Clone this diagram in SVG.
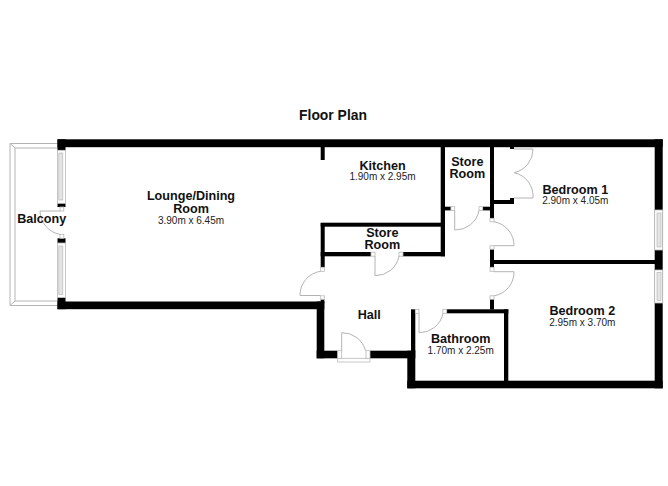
<svg xmlns="http://www.w3.org/2000/svg" width="668" height="486" viewBox="0 0 668 486">
<style>
.w{fill:#000}
.f{fill:#fff;stroke:#b8b8b8;stroke-width:.8}
.g{fill:#e4e4e4;stroke:#b8b8b8;stroke-width:.7}
.d{fill:none;stroke:#b4b4b4;stroke-width:1}
text{font-family:"Liberation Sans",Arial,sans-serif;text-anchor:middle;fill:#111}
.n{font-size:12.6px;font-weight:700}
.s{font-size:10px;fill:#222}
.t{font-size:13.9px;font-weight:700}
</style>
<rect width="668" height="486" fill="#fff"/>
<g id="balcony-frame">
<path class="d" d="M58 143.5H10V305.5H58M58 148H15V301H58M10 143.5L15 148M10 305.5L15 301"/>
</g>
<g id="walls">
<rect class="w" x="57.5" y="139.3" width="605.2" height="7.9"/>
<rect class="w" x="57.5" y="139.3" width="8" height="11"/>
<rect class="w" x="57.5" y="297.5" width="8" height="11.7"/>
<rect class="w" x="57.5" y="301.5" width="266.8" height="7.7"/>
<rect class="w" x="320.7" y="147" width="4" height="13"/>
<rect class="w" x="320.7" y="223" width="4" height="44.3"/>
<rect class="w" x="320.7" y="222.7" width="124.3" height="4"/>
<rect class="w" x="320.7" y="252" width="50.3" height="4.3"/>
<rect class="w" x="402.7" y="252" width="42.3" height="4.3"/>
<rect class="w" x="440.7" y="147" width="4.3" height="109.3"/>
<rect class="w" x="445" y="206.7" width="5.8" height="3.7"/>
<rect class="w" x="482.7" y="206.7" width="7.5" height="3.7"/>
<rect class="w" x="490" y="147" width="4" height="71.3"/>
<rect class="w" x="494" y="200" width="20" height="4"/>
<rect class="w" x="510" y="198" width="4" height="6"/>
<rect class="w" x="510" y="147" width="4" height="2"/>
<rect class="w" x="490" y="249.3" width="4" height="18"/>
<rect class="w" x="494" y="260" width="161" height="4"/>
<rect class="w" x="490" y="299" width="4" height="10.5"/>
<rect class="w" x="446.7" y="309.3" width="61.6" height="4"/>
<rect class="w" x="504" y="309.3" width="4.3" height="72"/>
<rect class="w" x="411" y="309.3" width="4.3" height="42"/>
<rect class="w" x="320.7" y="299.3" width="3.6" height="4"/>
<rect class="w" x="316.7" y="301.5" width="7.6" height="56.8"/>
<rect class="w" x="316.7" y="350.7" width="21" height="7.6"/>
<rect class="w" x="370" y="350.7" width="45.3" height="7.6"/>
<rect class="w" x="407.3" y="350.7" width="8" height="37.6"/>
<rect class="w" x="407.3" y="380.7" width="255.4" height="7.6"/>
<rect class="w" x="654.7" y="139.3" width="8" height="249"/>
<rect class="w" x="57.5" y="203.3" width="8" height="3.7"/>
<rect class="w" x="57.5" y="238.3" width="8" height="4.7"/>
</g>
<g id="windows">
<rect x="57.5" y="150.3" width="8" height="53" fill="#fff" stroke="#b8b8b8" stroke-width=".8"/>
<rect class="g" x="58.8" y="153" width="4" height="47"/>
<rect x="57.5" y="243" width="8" height="54.5" fill="#fff" stroke="#b8b8b8" stroke-width=".8"/>
<rect class="g" x="58.8" y="246" width="4" height="48.5"/>
<rect class="f" x="654.7" y="210" width="8" height="40"/>
<rect class="g" x="657" y="213" width="4" height="34"/>
<rect class="f" x="654.7" y="270" width="8" height="33"/>
<rect class="g" x="657" y="272.5" width="4" height="28"/>
</g>
<g id="doors">
<rect class="f" x="60" y="207" width="3.8" height="4"/>
<rect class="f" x="60" y="234.3" width="3.8" height="4"/>
<path class="d" d="M60 211H40A24 24 0 0 0 60 234.3"/>
<rect class="f" x="371" y="252.2" width="4" height="4"/>
<rect class="f" x="399" y="252.2" width="4" height="4"/>
<path class="d" d="M375 256V275.7A24 24 0 0 0 399 256"/>
<rect class="f" x="451" y="206.7" width="3.7" height="3.7"/>
<rect class="f" x="479" y="206.7" width="3.7" height="3.7"/>
<path class="d" d="M454.7 210.4V230A24 24 0 0 0 479 210.4"/>
<path class="d" d="M514 149H533A24 24 0 0 1 514 172.7A24 24 0 0 1 533 198H514"/>
<rect class="f" x="490" y="218.3" width="4" height="3.5"/>
<rect class="f" x="490" y="245.7" width="4" height="3.5"/>
<path class="d" d="M494 221.8A24 24 0 0 1 514 245.7H494"/>
<rect class="f" x="490" y="267.3" width="4" height="4"/>
<rect class="f" x="490" y="295.8" width="4" height="3.5"/>
<path class="d" d="M494 271.7H514A24 24 0 0 1 494 295.8"/>
<rect class="f" x="320.7" y="267.3" width="3.6" height="4"/>
<rect class="f" x="320.7" y="295.8" width="3.6" height="3.5"/>
<path class="d" d="M320.7 271.3A24 24 0 0 0 300 295.5H320.7"/>
<rect class="f" x="415.3" y="309.3" width="3.7" height="4"/>
<rect class="f" x="442.9" y="309.3" width="3.8" height="4"/>
<path class="d" d="M419 313.3V332.7A24 24 0 0 0 443 313.3"/>
<rect class="f" x="337.7" y="358.3" width="32.3" height="3.7"/>
<rect class="f" x="337.7" y="350.7" width="4" height="7.6"/>
<rect class="f" x="366" y="350.7" width="4" height="7.6"/>
<path class="d" d="M341.7 350.7V332.7A24 24 0 0 1 365.5 350.7"/>
</g>
<text class="t" x="333" y="120">Floor Plan</text>
<g id="balcony"><text class="n" x="41.7" y="223">Balcony</text></g>
<g id="lounge"><text class="n" x="191" y="200">Lounge/Dining</text><text class="n" x="191" y="212.5">Room</text><text class="s" x="191" y="224">3.90m x 6.45m</text></g>
<g id="kitchen"><text class="n" x="382.5" y="169.5">Kitchen</text><text class="s" x="382.5" y="180.3">1.90m x 2.95m</text></g>
<g id="store-1"><text class="n" x="467.3" y="165.7">Store</text><text class="n" x="467.3" y="178.3">Room</text></g>
<g id="store-2"><text class="n" x="382.3" y="236.7">Store</text><text class="n" x="382.3" y="249.3">Room</text></g>
<g id="bedroom-1"><text class="n" x="575.3" y="193.5">Bedroom 1</text><text class="s" x="575.3" y="204.3">2.90m x 4.05m</text></g>
<g id="bedroom-2"><text class="n" x="582.3" y="315">Bedroom 2</text><text class="s" x="582.3" y="326">2.95m x 3.70m</text></g>
<g id="hall"><text class="n" x="369.3" y="318.7">Hall</text></g>
<g id="bathroom"><text class="n" x="460.7" y="343.3">Bathroom</text><text class="s" x="460.7" y="354">1.70m x 2.25m</text></g>
</svg>
